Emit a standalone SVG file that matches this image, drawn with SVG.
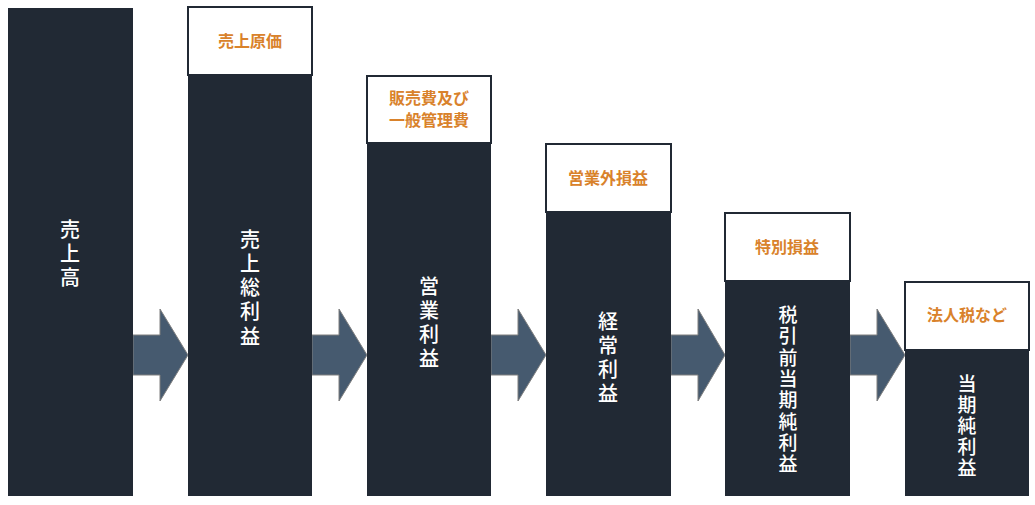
<svg xmlns="http://www.w3.org/2000/svg" width="1035" height="505" viewBox="0 0 1035 505">
<style>
.bar{fill:#212934}
.box{fill:#fff;stroke:#212934;stroke-width:2}
.lbl{fill:#fff;font-family:"Noto Sans CJK JP",sans-serif;font-size:20px;font-weight:500;text-anchor:middle;dominant-baseline:central}
.sm{font-size:19px}
.cap{fill:#d9822b;font-family:"Noto Sans CJK JP",sans-serif;font-size:16px;font-weight:bold;text-anchor:middle;dominant-baseline:central}
.arr{fill:#465a6f;stroke:#7f7f7f;stroke-width:1}
</style>
<rect width="1035" height="505" fill="#fff"/>
<g id="connectors">
<polygon class="arr" points="133,335 160,335 160,309 188,355 160,401 160,375 133,375"/>
<polygon class="arr" points="312,335 339,335 339,309 367,355 339,401 339,375 312,375"/>
<polygon class="arr" points="491,335 518,335 518,309 546,355 518,401 518,375 491,375"/>
<polygon class="arr" points="671,335 698,335 698,309 725,355 698,401 698,375 671,375"/>
<polygon class="arr" points="850,335 877,335 877,309 905,355 877,401 877,375 850,375"/>
</g>
<g id="n1"><rect class="bar" x="8" y="8" width="125" height="488"/>
<text class="lbl" x="70"><tspan x="70" y="228">売</tspan><tspan x="70" y="252">上</tspan><tspan x="70" y="276">高</tspan></text></g>
<g id="n2"><rect class="bar" x="188" y="75" width="124" height="421"/><rect class="box" x="188" y="7" width="124" height="68"/>
<text class="cap" x="250" y="40">売上原価</text>
<text class="lbl"><tspan x="250" y="238">売</tspan><tspan x="250" y="262">上</tspan><tspan x="250" y="286">総</tspan><tspan x="250" y="310">利</tspan><tspan x="250" y="335">益</tspan></text></g>
<g id="n3"><rect class="bar" x="367" y="143" width="124" height="353"/><rect class="box" x="367" y="76" width="124" height="67"/>
<text class="cap"><tspan x="429" y="97">販売費及び</tspan><tspan x="429" y="119">一般管理費</tspan></text>
<text class="lbl"><tspan x="429" y="285">営</tspan><tspan x="429" y="309">業</tspan><tspan x="429" y="333">利</tspan><tspan x="429" y="357">益</tspan></text></g>
<g id="n4"><rect class="bar" x="546" y="212" width="125" height="284"/><rect class="box" x="546" y="144" width="125" height="68"/>
<text class="cap" x="608" y="177">営業外損益</text>
<text class="lbl"><tspan x="608" y="320">経</tspan><tspan x="608" y="344">常</tspan><tspan x="608" y="368">利</tspan><tspan x="608" y="392">益</tspan></text></g>
<g id="n5"><rect class="bar" x="725" y="281" width="125" height="215"/><rect class="box" x="725" y="213" width="125" height="68"/>
<text class="cap" x="787" y="246">特別損益</text>
<text class="lbl sm"><tspan x="788" y="313">税</tspan><tspan x="788" y="334">引</tspan><tspan x="788" y="356">前</tspan><tspan x="788" y="377">当</tspan><tspan x="788" y="398">期</tspan><tspan x="788" y="420">純</tspan><tspan x="788" y="441">利</tspan><tspan x="788" y="462">益</tspan></text></g>
<g id="n6"><rect class="bar" x="905" y="350" width="124" height="146"/><rect class="box" x="905" y="282" width="124" height="68"/>
<text class="cap" x="967" y="314">法人税など</text>
<text class="lbl sm"><tspan x="967" y="382">当</tspan><tspan x="967" y="403">期</tspan><tspan x="967" y="424">純</tspan><tspan x="967" y="445">利</tspan><tspan x="967" y="466">益</tspan></text></g>
</svg>
